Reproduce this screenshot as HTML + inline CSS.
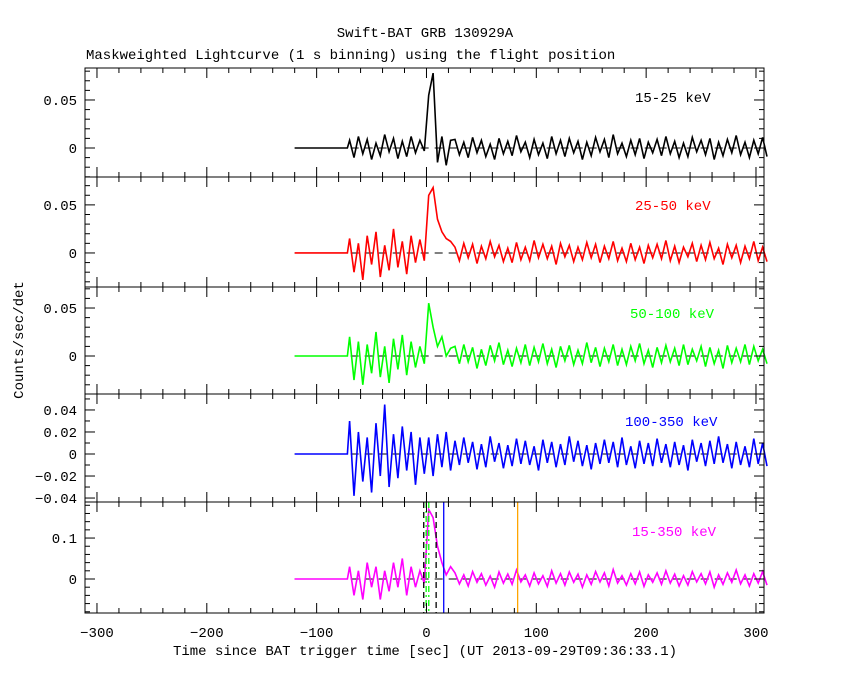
<!DOCTYPE html>
<html><head><meta charset="utf-8">
<style>
html,body{margin:0;padding:0;background:#fff;}
svg{display:block;font-family:"Liberation Mono",monospace;}
</style></head>
<body>
<svg id="chart" width="850" height="680" viewBox="0 0 850 680" xmlns="http://www.w3.org/2000/svg">
<text x="425" y="37" font-size="14" text-anchor="middle">Swift-BAT GRB 130929A</text>
<text x="86" y="59" font-size="14">Maskweighted Lightcurve (1 s binning) using the flight position</text>
<text x="425" y="655" font-size="14" text-anchor="middle">Time since BAT trigger time [sec] (UT 2013-09-29T09:36:33.1)</text>
<text transform="translate(23,340) rotate(-90)" font-size="14" text-anchor="middle">Counts/sec/det</text>
<g id="plots"></g>
</svg>
<script>
// time grid: bins start at -72 s, 4 s step
const tStart = -72;
const tStep = 4;
const xTickLabels = [-300,-200,-100,0,100,200,300];
const bandLabels = ["15-25 keV","25-50 keV","50-100 keV","100-350 keV","15-350 keV"];
// values in units of 0.001 counts/sec/det (panel 5 in 0.01)
const s1 = [8,-10,12,-6,9,-12,5,-8,14,-4,10,-11,7,-9,12,-5,8,-3, 55,78,-15,12,-18,8,
9,-7,6,-10,11,-5,8,-9,4,-12,10,-6,7,-8,13,-4,6,-10,9,-7,5,-11,12,-6,8,-9,10,-5,7,-12,6,-8,11,-4,9,-10,14,-6,5,-9,8,-7,10,-11,6,-5,9,-8,12,-6,7,-10,5,-9,11,-4,8,-7,10,-12,6,-8,9,-5,13,-7,6,-10,8,-6,11,-9];
const s2 = [15,-20,10,-28,18,-12,22,-25,8,-18,25,-15,12,-22,18,-10,14,-8, 60,68,35,22,15,12,
6,-8,10,-5,9,-11,7,-6,12,-4,8,-9,5,-10,11,-7,6,-8,13,-5,9,-6,7,-12,10,-4,8,-9,6,-7,11,-5,9,-10,7,-6,12,-8,5,-9,10,-7,6,-11,8,-5,9,-6,13,-8,7,-10,6,-4,10,-9,8,-7,11,-6,5,-12,9,-5,8,-10,7,-6,12,-8,6,-9];
const s3 = [20,-25,15,-30,12,-18,25,-22,10,-28,18,-14,22,-20,15,-12,10,-8, 55,30,10,20,0,8,
10,-8,12,-6,9,-13,7,-10,11,-5,14,-9,6,-11,8,-7,12,-10,9,-6,13,-8,7,-12,10,-5,11,-9,6,-8,14,-7,9,-11,8,-6,12,-10,7,-9,10,-5,13,-8,6,-12,9,-7,11,-6,8,-10,12,-9,7,-5,10,-11,9,-8,6,-13,11,-7,8,-6,12,-9,10,-5,7,-8];
const s4 = [30,-38,20,-25,15,-35,28,-20,45,-30,18,-22,25,-15,20,-28,15,-18, 15,-20,18,-12,20,-15,
12,-10,15,-8,11,-14,9,-12,16,-7,10,-13,8,-11,14,-9,12,-10,7,-15,13,-8,11,-12,9,-10,16,-7,12,-11,8,-14,10,-9,13,-8,11,-12,15,-10,7,-13,12,-9,10,-11,14,-8,9,-12,11,-10,8,-15,13,-7,10,-11,12,-9,16,-8,9,-13,11,-10,7,-12,14,-9,10,-11];
const s5 = [3,-4,2,-5,4,-2,3,-5,2,-3,4,-2,5,-4,3,-2,2,-1, 17,15,8,4,1,3,
1.5,-1.2,1,-1.7,1.8,-0.8,1.3,-1.5,0.7,-2,1.7,-1,1.2,-1.3,2.2,-0.7,1,-1.7,1.5,-1.2,0.8,-1.8,2,-1,1.3,-1.5,1.7,-0.8,1.2,-2,1,-1.3,1.8,-0.7,1.5,-1.7,2.3,-1,0.8,-1.5,1.3,-1.2,1.7,-1.8,1,-0.8,1.5,-1.3,2,-1,1.2,-1.7,0.8,-1.5,1.8,-0.7,1.3,-1.2,1.7,-2,1,-1.3,1.5,-0.8,2.2,-1.2,1,-1.7,1.3,-1,1.8,-1.5];
const seriesScale = [0.001,0.001,0.001,0.001,0.01];
const yTicks1 = [0,0.05]; const yTickLabels1 = ["0","0.05"];
const yTicks2 = [0,0.05]; const yTickLabels2 = ["0","0.05"];
const yTicks3 = [0,0.05]; const yTickLabels3 = ["0","0.05"];
const yTicks4 = [-0.04,-0.02,0,0.02,0.04]; const yTickLabels4 = ["\u22120.04","\u22120.02","0","0.02","0.04"];
const yTicks5 = [0,0.1]; const yTickLabels5 = ["0","0.1"];
const markerTimes = [-2.5,-0.3,2.1,8.8,15.7,83];

const NS="http://www.w3.org/2000/svg";
const X0=85, X1=764, TMIN=-310.9, TMAX=307.3;
const xs = t => X0 + (t-TMIN)/(TMAX-TMIN)*(X1-X0);
const panels = [
 {top:68,bot:177,ymin:-0.0302,ymax:0.0833,s:s1,col:"#000",ticks:yTicks1,tl:yTickLabels1,minor:0.01,lx:635,ly:102},
 {top:177,bot:287,ymin:-0.0354,ymax:0.079,s:s2,col:"#f00",ticks:yTicks2,tl:yTickLabels2,minor:0.01,lx:635,ly:210},
 {top:287,bot:394,ymin:-0.0396,ymax:0.0719,s:s3,col:"#0f0",ticks:yTicks3,tl:yTickLabels3,minor:0.01,lx:630,ly:318},
 {top:394,bot:502,ymin:-0.0436,ymax:0.0545,s:s4,col:"#00f",ticks:yTicks4,tl:yTickLabels4,minor:0.01,lx:625,ly:426},
 {top:502,bot:613,ymin:-0.083,ymax:0.188,s:s5,col:"#f0f",ticks:yTicks5,tl:yTickLabels5,minor:0.02,lx:632,ly:536}
];
const g=document.getElementById('plots');
function mk(tag,attrs,parent){const e=document.createElementNS(NS,tag);for(const k in attrs)e.setAttribute(k,attrs[k]);(parent||g).appendChild(e);return e;}
panels.forEach((p,pi)=>{
  const ys = v => p.bot - (v-p.ymin)/(p.ymax-p.ymin)*(p.bot-p.top);
  const grp=mk('g',{});
  
  
  const zl=mk('line',{x1:xs(-120),x2:X1,y1:ys(0),y2:ys(0),stroke:'#000','stroke-width':1,'stroke-dasharray':'8,6'},grp);
  
  
  let d='M'+xs(-120)+','+ys(0)+' L'+xs(tStart)+','+ys(0);
  p.s.forEach((v,i)=>{
    const t0=tStart+i*tStep+tStep/2, y=ys(v*seriesScale[pi]);
    d+=' L'+xs(t0).toFixed(1)+','+y.toFixed(1);
  });
  const path=mk('path',{d:d,fill:'none',stroke:p.col,'stroke-width':1.6},grp);
  
  
  if(pi===4){
    const styles=[['#000','6,4'],['#0f0','6,3,2,3'],['#0f0','6,3,2,3'],['#000','6,4'],['#00f',''],['#ffa500','']];
    markerTimes.forEach((t,k)=>{
      const l=mk('line',{x1:xs(t),x2:xs(t),y1:p.top,y2:p.bot,stroke:styles[k][0],'stroke-width':1.3},grp);
      if(styles[k][1])l.setAttribute('stroke-dasharray',styles[k][1]);
      
      
    });
  }
  const fr=mk('rect',{x:X0,y:p.top,width:X1-X0,height:p.bot-p.top,fill:'none',stroke:'#000','stroke-width':1},grp);
  
  
  for(let t=-300;t<=300;t+=20){
    const major=(t%100===0), L=major?10:5, x=xs(t);
    mk('line',{x1:x,x2:x,y1:p.top,y2:p.top+L,stroke:'#000'},grp);
    mk('line',{x1:x,x2:x,y1:p.bot,y2:p.bot-L,stroke:'#000'},grp);
  }
  const n0=Math.ceil(p.ymin/p.minor-1e-6), n1=Math.floor(p.ymax/p.minor+1e-6);
  for(let n=n0;n<=n1;n++){
    const v=n*p.minor, y=ys(v);
    const major=p.ticks.some(tv=>Math.abs(tv-v)<1e-9);
    const L=major?10:5;
    mk('line',{x1:X0,x2:X0+L,y1:y,y2:y,stroke:'#000'},grp);
    mk('line',{x1:X1,x2:X1-L,y1:y,y2:y,stroke:'#000'},grp);
  }
  p.ticks.forEach((v,k)=>{
    const tx=mk('text',{x:X0-8,y:ys(v)+5,'font-size':14,'text-anchor':'end'},grp);
    tx.textContent=p.tl[k];
    
    
  });
  const lb=mk('text',{x:p.lx,y:p.ly,'font-size':14,fill:p.col},grp);
  lb.textContent=bandLabels[pi];
  
  
});
xTickLabels.forEach(t=>{
  const tx=mk('text',{x:xs(t),y:637,'font-size':14,'text-anchor':'middle'});
  tx.textContent=(t<0?'\u2212'+(-t):String(t));
  
  
});
</script>
</body></html>
